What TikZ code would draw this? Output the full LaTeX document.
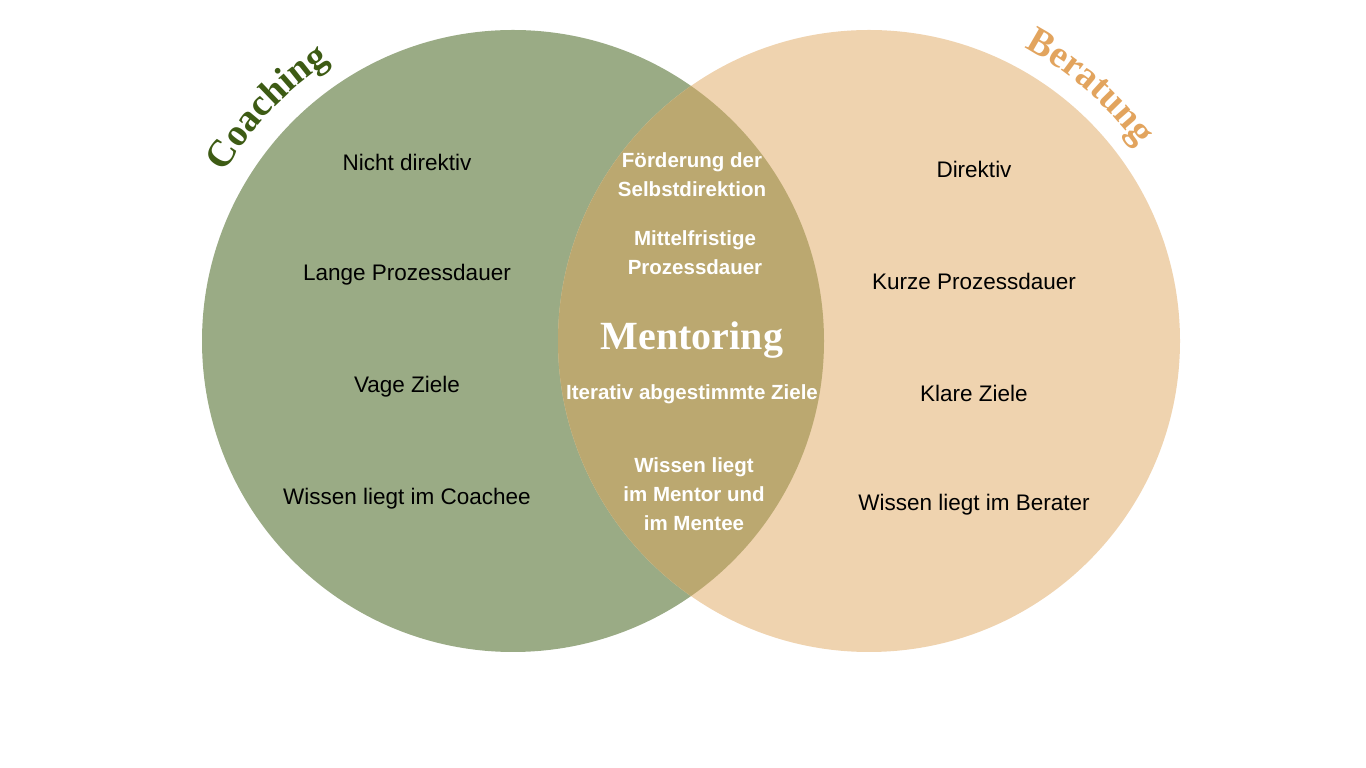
\documentclass[tikz,border=0pt]{standalone}
\usepackage{fontspec}
\setmainfont{Liberation Sans}
\newfontfamily\titlefont{Liberation Serif}
\usetikzlibrary{decorations.text}
\definecolor{coach-fill}{HTML}{9AAB85}
\definecolor{berat-fill}{HTML}{EFD3AF}
\definecolor{mentor-fill}{HTML}{BBA870}
\definecolor{coach-title}{HTML}{3D5B14}
\definecolor{berat-title}{HTML}{E2A45E}
\tikzset{
    item-text/.style = {align=center, text=black, font=\fontsize{22.5}{29}\selectfont},
    mid-text/.style = {align=center, text=white, font=\bfseries\fontsize{20.5}{29}\selectfont},
    curved-title/.style 2 args = {decorate, decoration={text along path, text align=center, text color=#1,
        text={|\titlefont\bfseries\fontsize{38}{38}\selectfont|#2}}},
}

\begin{document}
\begin{tikzpicture}[x=1pt, y=1pt]
\useasboundingbox (0,0) rectangle (1366,768);
\coordinate (coach-c) at (513,427);
\coordinate (berat-c) at (869,427);

% circles
\fill[coach-fill] (coach-c) circle[radius=311pt];
\fill[berat-fill] (berat-c) circle[radius=311pt];
\begin{scope}
    \clip (coach-c) circle[radius=311pt];
    \fill[mentor-fill] (berat-c) circle[radius=311pt];
\end{scope}

% titles
\path[curved-title={coach-title}{Coaching}] (coach-c) ++(160:334pt) arc[start angle=160, end angle=113, radius=334pt];
\path[curved-title={berat-title}{Beratung}] (berat-c) ++(72:332pt) arc[start angle=72, end angle=26, radius=332pt];

% coaching
\node[item-text] (coach-1) at (407,606) {Nicht direktiv};
\node[item-text] (coach-2) at (407,493) {Lange Prozessdauer};
\node[item-text] (coach-3) at (407,381) {Vage Ziele};
\node[item-text] (coach-4) at (407,269) {Wissen liegt im Coachee};

% beratung
\node[item-text] (berat-1) at (974,599) {Direktiv};
\node[item-text] (berat-2) at (974,487) {Kurze Prozessdauer};
\node[item-text] (berat-3) at (974,375) {Klare Ziele};
\node[item-text] (berat-4) at (974,263) {Wissen liegt im Berater};

% mentoring
\node[mid-text] (mentor-1) at (692,593) {Förderung der\\Selbstdirektion};
\node[mid-text] (mentor-2) at (695,515) {Mittelfristige\\Prozessdauer};
\node[text=white, font=\titlefont\bfseries\fontsize{40}{40}\selectfont] (mentor) at (692,428) {Mentoring};
\node[mid-text] (mentor-3) at (692,374) {Iterativ abgestimmte Ziele};
\node[mid-text] (mentor-4) at (694,274) {Wissen liegt\\im Mentor und\\im Mentee};
\end{tikzpicture}
\end{document}
